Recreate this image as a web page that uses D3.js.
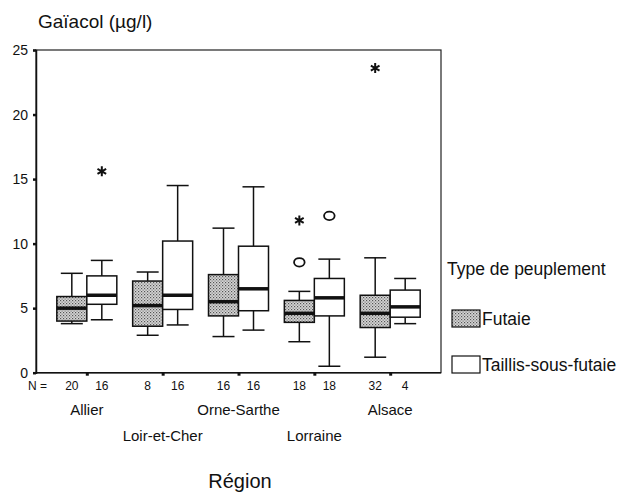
<!DOCTYPE html>
<html lang="fr">
<head>
<meta charset="UTF-8">
<title>Gaïacol par région</title>
<style>
  body { margin: 0; background: #fff; }
  text { font-family: "Liberation Sans", Arial, sans-serif; fill: #111; }
</style>
</head>
<body>
<script src="https://cdn.jsdelivr.net/npm/d3@7"></script>
<script>
// catégories
var regions = ["Allier", "Loir-et-Cher", "Orne-Sarthe", "Lorraine", "Alsace"];
var types = ["Futaie", "Taillis-sous-futaie"];
// effectifs [Futaie, Taillis] par région
var counts = [[20, 16], [8, 16], [16, 16], [18, 18], [32, 4]];
// statistiques des boîtes [Futaie, Taillis]
var whiskerLow  = [[3.8, 4.1], [2.9, 3.7], [2.8, 3.3], [2.4, 0.5], [1.2, 3.8]];
var quart1      = [[4.0, 5.3], [3.6, 4.9], [4.4, 4.8], [3.9, 4.4], [3.5, 4.3]];
var median      = [[5.0, 6.0], [5.2, 6.0], [5.5, 6.5], [4.6, 5.8], [4.6, 5.1]];
var quart3      = [[5.9, 7.5], [7.1, 10.2], [7.6, 9.8], [5.6, 7.3], [6.0, 6.4]];
var whiskerHigh = [[7.7, 8.7], [7.8, 14.5], [11.2, 14.4], [6.3, 8.8], [8.9, 7.3]];
// valeurs atypiques
var outRegion = ["Allier", "Lorraine", "Lorraine", "Lorraine", "Alsace"];
var outType   = ["Taillis-sous-futaie", "Futaie", "Futaie", "Taillis-sous-futaie", "Futaie"];
var outValue  = [15.6, 8.55, 11.8, 12.15, 23.6];
var outKind   = ["extreme", "outlier", "extreme", "outlier", "extreme"];
var yTicks = [0, 5, 10, 15, 20, 25];

var width = 628, height = 493;
var plotL = 36, plotR = 441, plotT = 50, plotB = 372.7;

var svg = d3.select("body").append("svg")
  .attr("width", width)
  .attr("height", height);

var defs = svg.append("defs");
var pat = defs.append("pattern")
  .attr("id", "dots")
  .attr("patternUnits", "userSpaceOnUse")
  .attr("width", 3).attr("height", 3);
pat.append("rect").attr("width", 3).attr("height", 3).attr("fill", "#d6d6d6");
pat.append("rect").attr("width", 1.2).attr("height", 1.2).attr("fill", "#555");
pat.append("rect").attr("x", 1.5).attr("y", 1.5).attr("width", 1.2).attr("height", 1.2).attr("fill", "#777");

var x = d3.scalePoint().domain(regions).range([plotL, plotR]).padding(0.67);
var sub = d3.scaleBand().domain(types).range([-30, 30]);
var y = d3.scaleLinear().domain([0, 25]).range([plotB, plotT]);
var fill = d3.scaleOrdinal().domain(types).range(["url(#dots)", "#fff"]);

var rows = [];
regions.forEach(function(r, i) {
  types.forEach(function(t, j) {
    rows.push({region: r, type: t, n: counts[i][j],
      lo: whiskerLow[i][j], q1: quart1[i][j], med: median[i][j],
      q3: quart3[i][j], hi: whiskerHigh[i][j]});
  });
});
var outliers = outValue.map(function(v, i) {
  return {region: outRegion[i], type: outType[i], value: v, kind: outKind[i]};
});
function cx(d) { return x(d.region) + sub(d.type) + sub.bandwidth() / 2; }

// cadre
svg.append("rect")
  .attr("x", plotL).attr("y", plotT)
  .attr("width", plotR - plotL).attr("height", plotB - plotT)
  .attr("fill", "none").attr("stroke", "#222").attr("stroke-width", 1.2);

// axe Y
var yAxis = svg.append("g")
  .attr("transform", "translate(" + plotL + ",0)")
  .call(d3.axisLeft(y).tickValues(yTicks).tickSize(3).tickPadding(5));
yAxis.select(".domain").attr("stroke", "#111").attr("stroke-width", 1.5);
yAxis.selectAll(".tick line").attr("stroke", "#111").attr("stroke-width", 2.5);
yAxis.selectAll(".tick text").style("font-size", "14px").attr("fill", "#111")
  .style("font-family", "Liberation Sans, Arial, sans-serif");

// axe X
var xAxis = svg.append("g")
  .attr("transform", "translate(0," + plotB + ")")
  .call(d3.axisBottom(x).tickSize(3).tickFormat(""));
xAxis.select(".domain").attr("stroke", "#111").attr("stroke-width", 1.5)
  .attr("d", "M" + plotL + ",0H" + plotR);
xAxis.selectAll(".tick line").attr("stroke", "#111").attr("stroke-width", 3);

// boîtes
var g = svg.selectAll("g.box").data(rows).enter().append("g").attr("class", "box");
var capW = 11, boxW = sub.bandwidth();
g.append("line")
  .attr("x1", cx).attr("x2", cx)
  .attr("y1", function(d) { return y(d.hi); })
  .attr("y2", function(d) { return y(d.q3); })
  .attr("stroke", "#111").attr("stroke-width", 1.5);
g.append("line")
  .attr("x1", cx).attr("x2", cx)
  .attr("y1", function(d) { return y(d.q1); })
  .attr("y2", function(d) { return y(d.lo); })
  .attr("stroke", "#111").attr("stroke-width", 1.5);
g.append("line")
  .attr("x1", function(d) { return cx(d) - capW; })
  .attr("x2", function(d) { return cx(d) + capW; })
  .attr("y1", function(d) { return y(d.hi); })
  .attr("y2", function(d) { return y(d.hi); })
  .attr("stroke", "#111").attr("stroke-width", 1.5);
g.append("line")
  .attr("x1", function(d) { return cx(d) - capW; })
  .attr("x2", function(d) { return cx(d) + capW; })
  .attr("y1", function(d) { return y(d.lo); })
  .attr("y2", function(d) { return y(d.lo); })
  .attr("stroke", "#111").attr("stroke-width", 1.5);
g.append("rect")
  .attr("x", function(d) { return cx(d) - boxW / 2; })
  .attr("y", function(d) { return y(d.q3); })
  .attr("width", boxW)
  .attr("height", function(d) { return y(d.q1) - y(d.q3); })
  .attr("fill", function(d) { return fill(d.type); })
  .attr("stroke", "#111").attr("stroke-width", 1.5);
g.append("line")
  .attr("x1", function(d) { return cx(d) - boxW / 2; })
  .attr("x2", function(d) { return cx(d) + boxW / 2; })
  .attr("y1", function(d) { return y(d.med); })
  .attr("y2", function(d) { return y(d.med); })
  .attr("stroke", "#111").attr("stroke-width", 3.5);

// valeurs atypiques
var ast = d3.symbol().type(d3.symbolAsterisk).size(70);
svg.selectAll("path.extreme")
  .data(outliers.filter(function(d) { return d.kind === "extreme"; }))
  .enter().append("path").attr("class", "extreme")
  .attr("d", ast)
  .attr("transform", function(d) { return "translate(" + cx(d) + "," + y(d.value) + ")"; })
  .attr("fill", "none").attr("stroke", "#111").attr("stroke-width", 2);
svg.selectAll("ellipse.outlier")
  .data(outliers.filter(function(d) { return d.kind === "outlier"; }))
  .enter().append("ellipse").attr("class", "outlier")
  .attr("cx", cx).attr("cy", function(d) { return y(d.value); })
  .attr("rx", 5.3).attr("ry", 4.3)
  .attr("fill", "none").attr("stroke", "#111").attr("stroke-width", 1.8);

// effectifs
svg.append("text").attr("x", 28).attr("y", 390).style("font-size", "12px").text("N =");
svg.selectAll("text.n").data(rows).enter().append("text").attr("class", "n")
  .attr("x", cx).attr("y", 390)
  .attr("text-anchor", "middle").style("font-size", "12px")
  .text(function(d) { return d.n; });

// régions (étiquettes décalées)
svg.selectAll("text.region").data(regions).enter().append("text").attr("class", "region")
  .attr("x", function(d) { return x(d); })
  .attr("y", function(d, i) { return i % 2 === 0 ? 415 : 441; })
  .attr("text-anchor", "middle").style("font-size", "15px")
  .text(function(d) { return d; });

// titres
svg.append("text").attr("x", 38).attr("y", 28).style("font-size", "19px").text("Gaïacol (µg/l)");
svg.append("text").attr("x", 240).attr("y", 488).attr("text-anchor", "middle")
  .style("font-size", "20px").text("Région");

// légende
svg.append("text").attr("x", 447).attr("y", 275).style("font-size", "17.5px").text("Type de peuplement");
var leg = svg.selectAll("g.leg").data(types).enter().append("g").attr("class", "leg")
  .attr("transform", function(d, i) { return "translate(452," + (310 + i * 46) + ")"; });
leg.append("rect").attr("width", 28).attr("height", 17)
  .attr("fill", function(d) { return fill(d); })
  .attr("stroke", "#111").attr("stroke-width", 1.2);
leg.append("text").attr("x", 30).attr("y", 15).style("font-size", "17.5px")
  .text(function(d) { return d; });
</script>
</body>
</html>
